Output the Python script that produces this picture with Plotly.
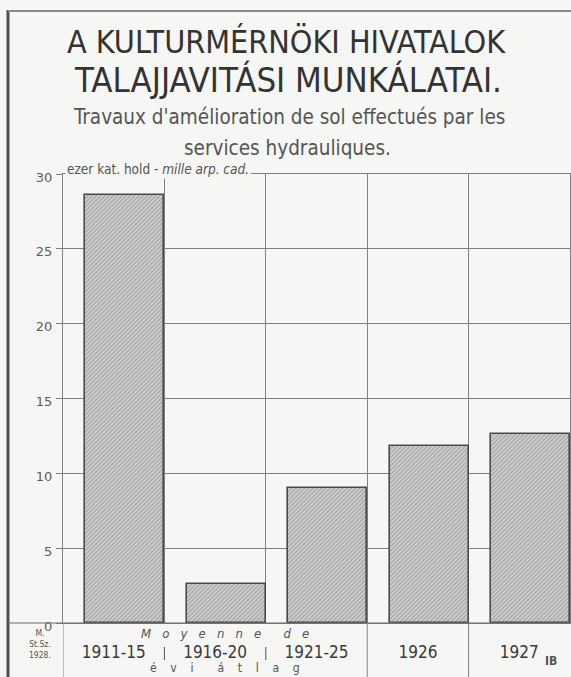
import plotly.graph_objects as go

# ---- data ----
categories = ["1911-15", "1916-20", "1921-25", "1926", "1927"]
values = [28.6, 2.6, 9.0, 11.8, 12.6]
y_ticks = [0, 5, 10, 15, 20, 25, 30]

# ---- geometry helpers (pixel -> paper) ----
W, H = 571, 677
L, R, T, B = 63, 1, 174, 54
PW, PH = W - L - R, H - T - B


def px(xp):
    return (xp - L) / PW


def py(yp):
    return (H - B - yp) / PH


PAPER = "#f6f6f4"
INK = "#3c3c3c"
GRID = "#808080"
FONT = "DejaVu Sans Condensed, DejaVu Sans, sans-serif"

fig = go.Figure()
fig.add_trace(go.Bar(
    x=list(range(len(categories))),
    y=values,
    offset=0.22,
    width=0.78,
    marker=dict(
        color="#c0c0c0",
        line=dict(color="#4a4a4a", width=1.6),
        pattern=dict(shape="/", size=3, solidity=0.4, fgcolor="#6a6a6a", bgcolor="#d2d2d2"),
    ),
    hoverinfo="skip",
))

fig.update_layout(
    width=W, height=H,
    margin=dict(l=L, r=R, t=T, b=B),
    paper_bgcolor=PAPER, plot_bgcolor=PAPER,
    showlegend=False,
    bargap=0,
    font=dict(family=FONT, color=INK),
    xaxis=dict(
        range=[0, len(categories)],
        tickvals=[i + 0.5 for i in range(len(categories))],
        ticktext=categories,
        ticks="", showgrid=False, zeroline=False,
        showline=True, linecolor=GRID, linewidth=1, mirror=True,
        tickfont=dict(size=17, color="#3a3a3a", family=FONT),
        ticklabelstandoff=14,
        minor=dict(tick0=0, dtick=1, showgrid=True, gridcolor=GRID, gridwidth=1, ticks=""),
    ),
    yaxis=dict(
        range=[0, 30],
        tickvals=y_ticks,
        ticktext=[str(v) for v in y_ticks],
        showgrid=True, gridcolor=GRID, gridwidth=1,
        zeroline=False,
        showline=True, linecolor=GRID, linewidth=1, mirror=True,
        ticks="outside", ticklen=6, tickcolor=GRID,
        ticklabelstandoff=1, ticklabelshift=3,
        tickfont=dict(size=13, color="#5e5e5e", family="DejaVu Sans, sans-serif"),
    ),
)

shapes = []
# outer frame: thick left rule and thin top rule
shapes.append(dict(type="line", xref="paper", yref="paper", x0=px(8), x1=px(8), y0=py(10), y1=py(677),
                   line=dict(color="#505050", width=3)))
shapes.append(dict(type="line", xref="paper", yref="paper", x0=px(8), x1=px(571), y0=py(11), y1=py(11),
                   line=dict(color="#8a8a8a", width=2)))
# baseline extended to the left frame
shapes.append(dict(type="line", xref="paper", yref="paper", x0=px(8), x1=1, y0=0, y1=0,
                   line=dict(color="#6a6a6a", width=1.2)))
# vertical rules in the label band
for xb in [0, 3, 4]:
    shapes.append(dict(type="line", xref="x", yref="paper", x0=xb, x1=xb, y0=0, y1=py(677),
                       line=dict(color=GRID, width=1)))
for xb in [1, 2]:
    shapes.append(dict(type="line", xref="x", yref="paper", x0=xb, x1=xb, y0=py(647), y1=py(660),
                       line=dict(color="#555555", width=1)))
fig.update_layout(shapes=shapes)

ann = []


def note(text, x, y, size, color=INK, family=FONT, xanchor="center", **kw):
    ann.append(dict(text=text, xref="paper", yref="paper", x=px(x), y=py(y),
                    xanchor=xanchor, yanchor="middle",
                    showarrow=False, font=dict(size=size, color=color, family=family), **kw))


note("A KULTURMÉRNÖKI HIVATALOK", 286, 42, 32, color="#333333")
note("TALAJJAVITÁSI MUNKÁLATAI.", 288, 80, 34.5, color="#333333")
note("Travaux d'amélioration de sol effectués par les", 289, 117, 20.5, color="#555555")
note("services hydrauliques.", 287, 148, 20.5, color="#555555")
note("ezer kat. hold - <i>mille arp. cad.</i>", 65, 169, 13.5, color="#555555",
     xanchor="left", bgcolor=PAPER, borderpad=1)
note("M.<br>St.Sz.<br>1928.", 40, 644, 8.5, color="#555555")
note("<i>M   o   y   e   n   n   e      d   e</i>", 225, 633, 13, color="#555555")
note("é    v    i       á    t    l    a    g", 225, 668, 12, color="#555555")
note("<b>IB</b>", 551, 661, 12, color="#555555")
fig.update_layout(annotations=ann)

fig.write_html("out.html", config={"displayModeBar": False},
               post_script="document.body.style.margin='0';")
